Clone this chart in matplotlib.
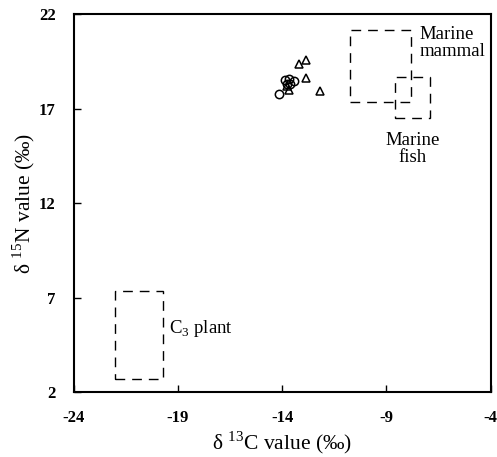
import matplotlib
matplotlib.use("Agg")
from matplotlib import pyplot as plt
from matplotlib.patches import Rectangle

plt.rcParams['font.family'] = ['Liberation Serif', 'DejaVu Serif']
plt.rcParams['mathtext.fontset'] = 'custom'
plt.rcParams['mathtext.rm'] = 'Liberation Serif'
plt.rcParams['axes.unicode_minus'] = False

# triangles
tri_c = [-13.18, -12.84, -12.84, -12.17, -13.68, -13.74]
tri_n = [19.35, 19.60, 18.63, 17.94, 17.98, 18.19]
# circles
circ_c = [-13.85, -13.68, -13.44, -13.77, -14.13, -13.62]
circ_n = [18.51, 18.55, 18.47, 18.33, 17.80, 18.30]

# reference ranges: (c_min, c_max, n_min, n_max)
ranges = {
    'Marine mammal': (-10.75, -7.82, 17.36, 21.15),
    'Marine fish': (-8.59, -6.88, 16.51, 18.65),
    'C3 plant': (-22.0, -19.7, 2.69, 7.34),
}

x_ticks = [-24, -19, -14, -9, -4]
y_ticks = [2, 7, 12, 17, 22]

fig = plt.figure(figsize=(4.97, 4.57), dpi=100)
ax = fig.add_axes([0.148, 0.142, 0.839, 0.827])

for name, (c0, c1, n0, n1) in ranges.items():
    ax.add_patch(Rectangle((c0, n0), c1 - c0, n1 - n0, fill=False,
                           edgecolor='black', linewidth=1.0,
                           linestyle=(0, (7, 5))))

ax.plot(circ_c, circ_n, 'o', markersize=6, markerfacecolor='none',
        markeredgecolor='black', markeredgewidth=1.1)
ax.plot(tri_c, tri_n, '^', markersize=6, markerfacecolor='none',
        markeredgecolor='black', markeredgewidth=1.1)

ax.text(-7.4, 21.4, 'Marine\nmammal', fontsize=13.5, ha='left', va='top',
        linespacing=1.0)
ax.text(-7.75, 15.75, 'Marine\nfish', fontsize=13.5, ha='center', va='top',
        linespacing=1.0)
ax.text(-19.4, 5.35, 'C$_3$ plant', fontsize=13.5, ha='left', va='center')

ax.set_xlim(-24, -4)
ax.set_ylim(2, 22)
ax.set_xticks(x_ticks)
ax.set_yticks(y_ticks)
ax.tick_params(direction='in', length=5, width=1)
ax.tick_params(axis='x', pad=13)
ax.tick_params(axis='y', pad=13)
for lab in ax.get_xticklabels() + ax.get_yticklabels():
    lab.set_fontsize(12)
    lab.set_fontweight('bold')
for s in ax.spines.values():
    s.set_linewidth(1.5)

ax.set_xlabel('δ $^{13}$C value (‰)', fontsize=15.5, labelpad=2)
ax.set_ylabel('δ $^{15}$N value (‰)', fontsize=15.5, labelpad=1)

fig.savefig('out.png', dpi=100)
